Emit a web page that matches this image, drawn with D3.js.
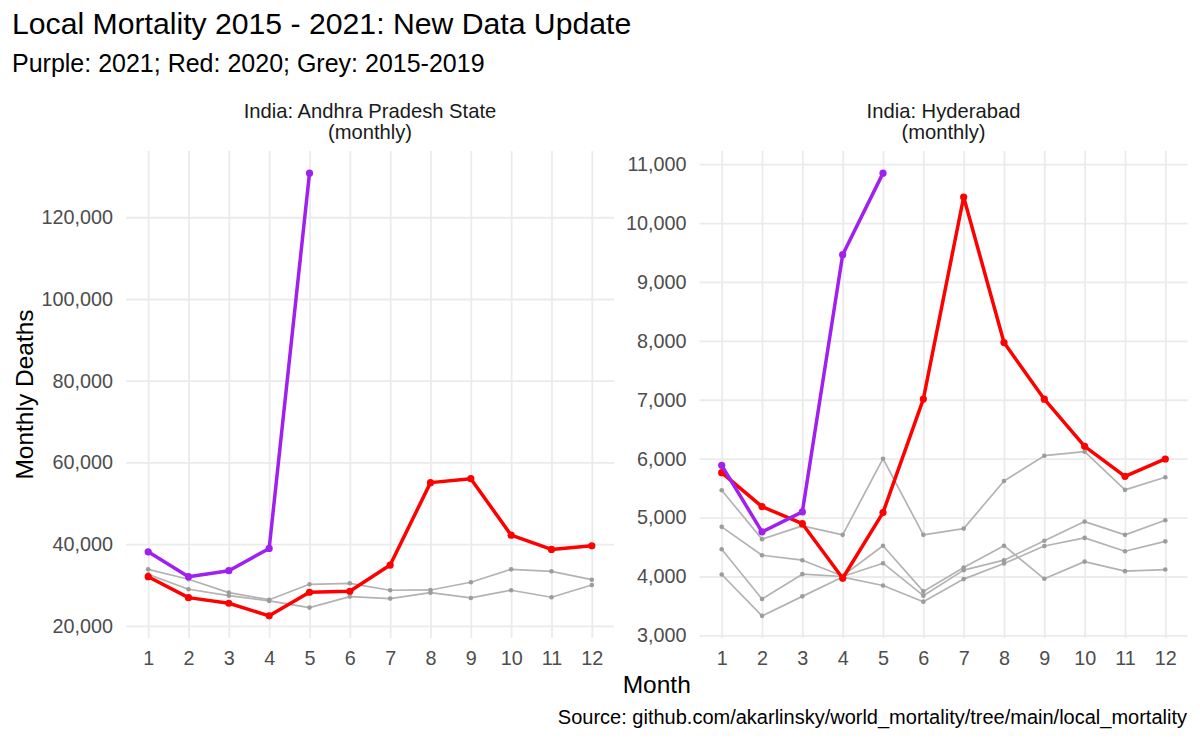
<!DOCTYPE html>
<html>
<head>
<meta charset="utf-8">
<script src="https://cdn.jsdelivr.net/npm/d3@7"></script>
<style>
  body { margin: 0; background: #fff; }
  text { font-family: "Liberation Sans", Arial, sans-serif; }
</style>
</head>
<body>
<div id="chart"></div>
<script>
// months on the x axis
const months = [1, 2, 3, 4, 5, 6, 7, 8, 9, 10, 11, 12];

// Andhra Pradesh State (monthly)
const apGreyA = [33830, 31390, 28120, 26400, 30170, 30410, 28710, 28780, 30660, 33830, 33340, 31290];
const apGreyB = [32600, 28950, 27390, 26100, 24460, 27150, 26660, 28120, 26830, 28710, 27000, 30000];
const ap2020 = [32030, 26900, 25530, 22440, 28220, 28460, 34880, 55050, 56020, 42190, 38710, 39590];
const ap2021 = [38120, 32030, 33500, 38950, 130800];
const apTicks = [20000, 40000, 60000, 80000, 100000, 120000];

// Hyderabad (monthly)
const hyGreyA = [5464, 4634, 4859, 4707, 6000, 4707, 4813, 5622, 6051, 6119, 5470, 5685];
const hyGreyB = [4843, 4361, 4277, 4010, 4523, 3747, 4152, 4523, 3961, 4253, 4091, 4118];
const hyGreyC = [4462, 3619, 4040, 4000, 4226, 3675, 4108, 4277, 4607, 4932, 4707, 4956];
const hyGreyD = [4034, 3332, 3663, 3990, 3848, 3573, 3956, 4220, 4518, 4655, 4428, 4597];
const hy2020 = [5763, 5186, 4896, 3970, 5085, 7012, 10442, 7971, 7010, 6210, 5700, 5995];
const hy2021 = [5888, 4758, 5097, 9463, 10847];
const hyTicks = [3000, 4000, 5000, 6000, 7000, 8000, 9000, 10000, 11000];

const width = 1200, height = 741;
const plotTop = 151, plotBottom = 638;

let svg = d3.select("#chart").append("svg")
    .attr("width", width)
    .attr("height", height);

// titles
svg.append("text").attr("x", 12).attr("y", 34)
    .style("font-size", "30.2px").attr("fill", "#000")
    .text("Local Mortality 2015 - 2021: New Data Update");
svg.append("text").attr("x", 12).attr("y", 72)
    .style("font-size", "25px").attr("fill", "#000")
    .text("Purple: 2021; Red: 2020; Grey: 2015-2019");

function drawPanel(left, right, strip, greys, red, purple, ticks) {
    let g = svg.append("g");

    let all = [].concat(...greys, red, purple);
    let ext = d3.extent(all);
    let pad = (ext[1] - ext[0]) * 0.05;

    let x = d3.scaleLinear()
        .domain([months[0] - 0.55, months[months.length - 1] + 0.55])
        .range([left, right]);
    let y = d3.scaleLinear()
        .domain([ext[0] - pad, ext[1] + pad])
        .range([plotBottom, plotTop]);

    // grid
    g.append("g")
        .attr("transform", "translate(0," + plotBottom + ")")
        .call(d3.axisBottom(x).tickValues(months).tickSize(-(plotBottom - plotTop)).tickFormat(""))
        .call(a => a.select(".domain").remove())
        .selectAll("line").attr("stroke", "#ebebeb").attr("stroke-width", 1.8);
    g.append("g")
        .attr("transform", "translate(" + left + ",0)")
        .call(d3.axisLeft(y).tickValues(ticks).tickSize(-(right - left)).tickFormat(""))
        .call(a => a.select(".domain").remove())
        .selectAll("line").attr("stroke", "#ebebeb").attr("stroke-width", 1.8);

    // tick labels
    let xa = g.append("g")
        .attr("transform", "translate(0," + plotBottom + ")")
        .call(d3.axisBottom(x).tickValues(months).tickSize(0).tickPadding(13));
    let ya = g.append("g")
        .attr("transform", "translate(" + left + ",0)")
        .call(d3.axisLeft(y).tickValues(ticks).tickSize(0).tickPadding(13).tickFormat(d3.format(",")));
    [xa, ya].forEach(a => {
        a.select(".domain").remove();
        a.selectAll("text").attr("fill", "#4d4d4d")
            .style("font-size", "19.8px").style("font-family", "Liberation Sans, Arial, sans-serif");
    });

    // strip title
    let cx = (left + right) / 2;
    g.append("text").attr("x", cx).attr("y", 117.5).attr("text-anchor", "middle")
        .style("font-size", "20.2px").attr("fill", "#1a1a1a").text(strip);
    g.append("text").attr("x", cx).attr("y", 138.5).attr("text-anchor", "middle")
        .style("font-size", "20.2px").attr("fill", "#1a1a1a").text("(monthly)");

    let line = d3.line().x((d, i) => x(months[i])).y(d => y(d));

    function series(vals, color, lw, r, ptColor) {
        g.append("path").datum(vals)
            .attr("d", line)
            .attr("fill", "none")
            .attr("stroke", color)
            .attr("stroke-width", lw)
            .attr("stroke-linejoin", "round");
        g.append("g").selectAll("circle")
            .data(vals)
            .join("circle")
            .attr("cx", (d, i) => x(months[i]))
            .attr("cy", d => y(d))
            .attr("r", r)
            .attr("fill", ptColor);
    }

    greys.forEach(s => series(s, "#b3b3b3", 1.7, 2.3, "#9c9c9c"));
    series(red, "#ff0000", 3.5, 3.6, "#ff0000");
    series(purple, "#a020f0", 3.5, 3.6, "#a020f0");
}

drawPanel(126, 614, "India: Andhra Pradesh State", [apGreyA, apGreyB], ap2020, ap2021, apTicks);
drawPanel(699.5, 1187.5, "India: Hyderabad", [hyGreyA, hyGreyB, hyGreyC, hyGreyD], hy2020, hy2021, hyTicks);

// axis titles
svg.append("text")
    .attr("transform", "translate(33," + ((plotTop + plotBottom) / 2) + ") rotate(-90)")
    .attr("text-anchor", "middle")
    .style("font-size", "24.5px").attr("fill", "#000")
    .text("Monthly Deaths");
svg.append("text")
    .attr("x", (126 + 1187.5) / 2).attr("y", 693)
    .attr("text-anchor", "middle")
    .style("font-size", "24.5px").attr("fill", "#000")
    .text("Month");

// caption
svg.append("text")
    .attr("x", 1187).attr("y", 724)
    .attr("text-anchor", "end")
    .style("font-size", "20px").attr("fill", "#000")
    .text("Source: github.com/akarlinsky/world_mortality/tree/main/local_mortality");
</script>
</body>
</html>
